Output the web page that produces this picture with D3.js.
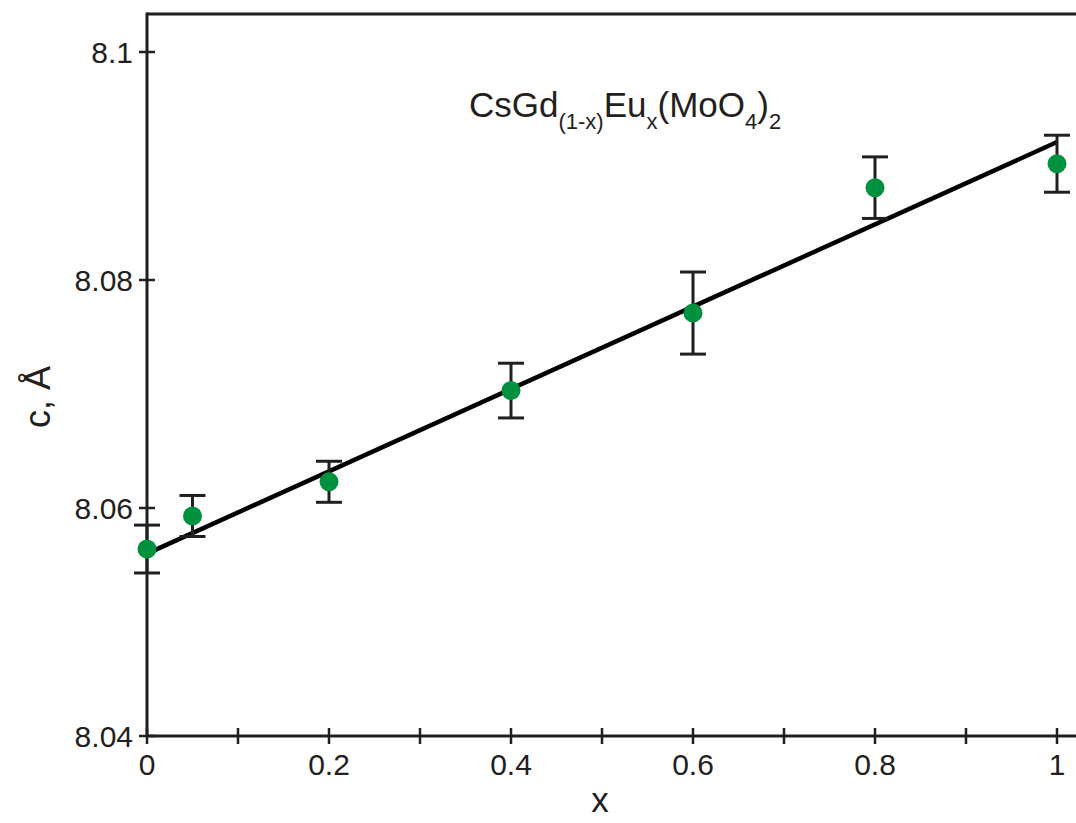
<!DOCTYPE html>
<html>
<head>
<meta charset="utf-8">
<script src="https://cdn.jsdelivr.net/npm/d3@7"></script>
<style>
  body { margin: 0; background: #fff; }
  text { font-family: "Liberation Sans", Arial, sans-serif; fill: #231f20; }
</style>
</head>
<body>
<svg id="chart" width="1076" height="823"></svg>
<script>
const xVals = [0, 0.05, 0.2, 0.4, 0.6, 0.8, 1.0];
const cVals = [8.0564, 8.0593, 8.0623, 8.0703, 8.0771, 8.0881, 8.0902];
const cErr  = [0.0021, 0.0018, 0.0018, 0.0024, 0.0036, 0.0027, 0.0025];

// linear fit c = a + b*x
const fitA = 8.0560;
const fitB = 0.0361;

const xTicks = [0, 0.1, 0.2, 0.3, 0.4, 0.5, 0.6, 0.7, 0.8, 0.9, 1.0];
const xTickLabels = ["0", "", "0.2", "", "0.4", "", "0.6", "", "0.8", "", "1"];
const yTicks = [8.04, 8.06, 8.08, 8.1];
const yTickLabels = ["8.04", "8.06", "8.08", "8.1"];

const ink = "#231f20";
const svg = d3.select("#chart");

const x = d3.scaleLinear().domain([0, 1]).range([147, 1057]);
const y = d3.scaleLinear().domain([8.04, 8.1]).range([736, 52]);

const frameTop = 14, frameRight = 1076;

// frame: top line, left axis, bottom axis
svg.append("line").attr("x1", x(0)).attr("x2", frameRight).attr("y1", frameTop).attr("y2", frameTop)
   .attr("stroke", ink).attr("stroke-width", 3);
svg.append("line").attr("x1", x(0)).attr("x2", x(0)).attr("y1", frameTop - 1.5).attr("y2", y(8.04))
   .attr("stroke", ink).attr("stroke-width", 3);
svg.append("line").attr("x1", x(0)).attr("x2", frameRight).attr("y1", y(8.04)).attr("y2", y(8.04))
   .attr("stroke", ink).attr("stroke-width", 3);

// x ticks crossing the axis
svg.selectAll(".xtick").data(xTicks).enter().append("line")
   .attr("class", "xtick")
   .attr("x1", d => x(d)).attr("x2", d => x(d))
   .attr("y1", y(8.04) - 8).attr("y2", y(8.04) + 8)
   .attr("stroke", ink).attr("stroke-width", 2.5);
svg.selectAll(".xlab").data(xTicks).enter().append("text")
   .attr("class", "xlab")
   .attr("x", d => x(d)).attr("y", 775)
   .attr("text-anchor", "middle").attr("font-size", 30)
   .text((d, i) => xTickLabels[i]);

// y ticks crossing the axis
svg.selectAll(".ytick").data(yTicks).enter().append("line")
   .attr("class", "ytick")
   .attr("x1", x(0) - 8).attr("x2", x(0) + 8)
   .attr("y1", d => y(d)).attr("y2", d => y(d))
   .attr("stroke", ink).attr("stroke-width", 2.5);
svg.selectAll(".ylab").data(yTicks).enter().append("text")
   .attr("class", "ylab")
   .attr("x", 133).attr("y", d => y(d)).attr("dy", "0.36em")
   .attr("text-anchor", "end").attr("font-size", 30)
   .text((d, i) => yTickLabels[i]);

// axis titles
svg.append("text").attr("x", 600).attr("y", 812)
   .attr("text-anchor", "middle").attr("font-size", 35).text("x");
svg.append("text")
   .attr("transform", `translate(50,397) rotate(-90)`)
   .attr("text-anchor", "middle").attr("font-size", 36).text("c, Å");

// compound label with subscripts
const title = svg.append("text").attr("x", 469).attr("y", 117).attr("font-size", 35);
title.append("tspan").text("CsGd");
title.append("tspan").attr("font-size", 22).attr("dy", 12).text("(1-x)");
title.append("tspan").attr("dy", -12).text("Eu");
title.append("tspan").attr("font-size", 22).attr("dy", 12).text("x");
title.append("tspan").attr("dy", -12).text("(MoO");
title.append("tspan").attr("font-size", 22).attr("dy", 12).text("4");
title.append("tspan").attr("dy", -12).text(")");
title.append("tspan").attr("font-size", 22).attr("dy", 12).text("2");

// fit line
const fitLine = d3.line().x(d => x(d)).y(d => y(fitA + fitB * d));
svg.append("path").datum([0, 1]).attr("d", fitLine)
   .attr("fill", "none").attr("stroke", "#000").attr("stroke-width", 4.5);

// error bars
const pts = xVals.map((d, i) => ({ x: d, c: cVals[i], e: cErr[i] }));
const eb = svg.selectAll(".err").data(pts).enter().append("g").attr("class", "err")
   .attr("stroke", ink).attr("stroke-width", 3);
eb.append("line").attr("x1", d => x(d.x)).attr("x2", d => x(d.x))
  .attr("y1", d => y(d.c + d.e)).attr("y2", d => y(d.c - d.e));
eb.append("line").attr("x1", d => x(d.x) - 13).attr("x2", d => x(d.x) + 13)
  .attr("y1", d => y(d.c + d.e)).attr("y2", d => y(d.c + d.e));
eb.append("line").attr("x1", d => x(d.x) - 13).attr("x2", d => x(d.x) + 13)
  .attr("y1", d => y(d.c - d.e)).attr("y2", d => y(d.c - d.e));

// data points
svg.selectAll(".pt").data(pts).enter().append("circle").attr("class", "pt")
   .attr("cx", d => x(d.x)).attr("cy", d => y(d.c)).attr("r", 9.5)
   .attr("fill", "#00913f");
</script>
</body>
</html>
